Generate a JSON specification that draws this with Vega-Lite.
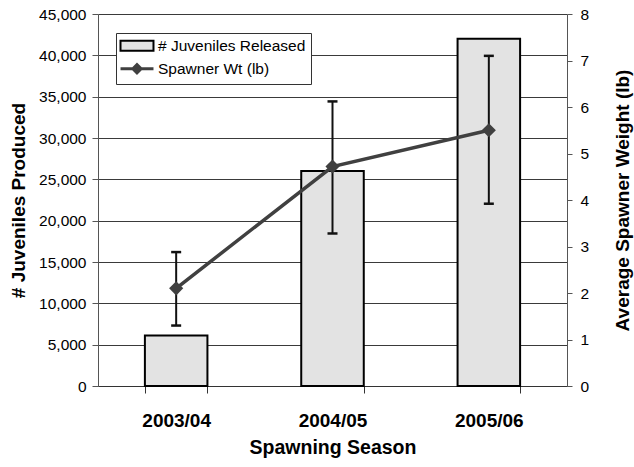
{
  "$schema": "https://vega.github.io/schema/vega-lite/v6.json",
  "width": 469,
  "height": 372,
  "autosize": "none",
  "padding": {"left": 98, "top": 14, "right": 67, "bottom": 81},
  "background": "white",
  "config": {
    "font": "Liberation Sans",
    "view": {"stroke": null},
    "axis": {"labelColor": "#000", "titleColor": "#000", "domainColor": "#555", "tickColor": "#555"}
  },
  "data": {
    "values": [
      {"season": "2003/04", "juveniles": 6100, "weight": 2.1, "lo": 1.3, "hi": 2.88},
      {"season": "2004/05", "juveniles": 26000, "weight": 4.72, "lo": 3.28, "hi": 6.12},
      {"season": "2005/06", "juveniles": 42000, "weight": 5.5, "lo": 3.92, "hi": 7.1}
    ]
  },
  "encoding": {
    "x": {
      "field": "season",
      "type": "nominal",
      "scale": {"paddingInner": 0.6, "paddingOuter": 0.3},
      "axis": {
        "title": "Spawning Season",
        "labelAngle": 0,
        "labelFontSize": 19,
        "labelFontWeight": "bold",
        "tickBand": "extent",
        "tickSize": 7,
        "labelPadding": 18,
        "titleFontSize": 19.5,
        "titleFontWeight": "bold",
        "titlePadding": 8,
        "domainColor": "#333",
        "tickColor": "#333"
      }
    }
  },
  "layer": [
    {
      "mark": {"type": "bar", "stroke": "#000", "strokeWidth": 2},
      "encoding": {
        "y": {
          "field": "juveniles",
          "type": "quantitative",
          "scale": {"domain": [0, 45000], "nice": false},
          "axis": {
            "title": "# Juveniles Produced",
            "values": [0, 5000, 10000, 15000, 20000, 25000, 30000, 35000, 40000, 45000],
            "format": ",.0f",
            "grid": true,
            "gridColor": "#3a3a3a",
            "gridWidth": 1,
            "tickSize": 6,
            "labelPadding": 6,
            "labelFontSize": 15.5,
            "titleFontSize": 19,
            "titleFontWeight": "bold",
            "titlePadding": 10
          }
        },
        "color": {
          "datum": "# Juveniles Released",
          "type": "nominal",
          "scale": {"domain": ["# Juveniles Released", "Spawner Wt (lb)"], "range": ["#e3e3e3", "#404040"]},
          "legend": {
            "orient": "none",
            "legendX": 18,
            "legendY": 19,
            "title": null,
            "padding": 5,
            "strokeColor": "#333",
            "fillColor": "white",
            "labelFontSize": 15.5,
            "labelColor": "#000",
            "labelOffset": 21.5,
            "symbolSize": 272,
            "rowPadding": 3,
            "symbolOpacity": 1,
            "symbolType": {"expr": "datum.value === '# Juveniles Released' ? 'M-1,-0.6H3V0.6H-1Z' : 'M-1,0H3M0.5,0L1,-0.5L1.5,0L1,0.5Z'"},
            "symbolFillColor": {"expr": "datum.value === '# Juveniles Released' ? '#e3e3e3' : '#404040'"},
            "symbolStrokeColor": {"expr": "datum.value === '# Juveniles Released' ? '#000' : '#404040'"},
            "symbolStrokeWidth": {"expr": "datum.value === '# Juveniles Released' ? 2 : 3"}
          }
        }
      }
    },
    {
      "layer": [
        {
          "mark": {"type": "rule", "color": "#111", "strokeWidth": 2},
          "encoding": {
            "y": {
              "field": "lo",
              "type": "quantitative",
              "scale": {"domain": [0, 8], "nice": false},
              "axis": {
                "orient": "right",
                "title": "Average Spawner Weight (lb)",
                "values": [0, 1, 2, 3, 4, 5, 6, 7, 8],
                "grid": false,
                "tickSize": 5,
                "labelPadding": 8,
                "labelFontSize": 15.5,
                "titleFontSize": 19,
                "titleFontWeight": "bold",
                "titleAngle": 270,
                "titleBaseline": "top",
                "titlePadding": 25
              }
            },
            "y2": {"field": "hi"}
          }
        },
        {
          "mark": {"type": "tick", "color": "#111", "thickness": 2.5, "size": 10, "opacity": 1},
          "encoding": {"y": {"field": "lo", "type": "quantitative"}}
        },
        {
          "mark": {"type": "tick", "color": "#111", "thickness": 2.5, "size": 10, "opacity": 1},
          "encoding": {"y": {"field": "hi", "type": "quantitative"}}
        },
        {
          "mark": {
            "type": "line",
            "color": "#404040",
            "strokeWidth": 3.5,
            "point": {"shape": "diamond", "size": 200, "filled": true, "color": "#404040", "opacity": 1}
          },
          "encoding": {
            "y": {"field": "weight", "type": "quantitative"}
          }
        }
      ]
    }
  ],
  "resolve": {"scale": {"y": "independent"}}
}
